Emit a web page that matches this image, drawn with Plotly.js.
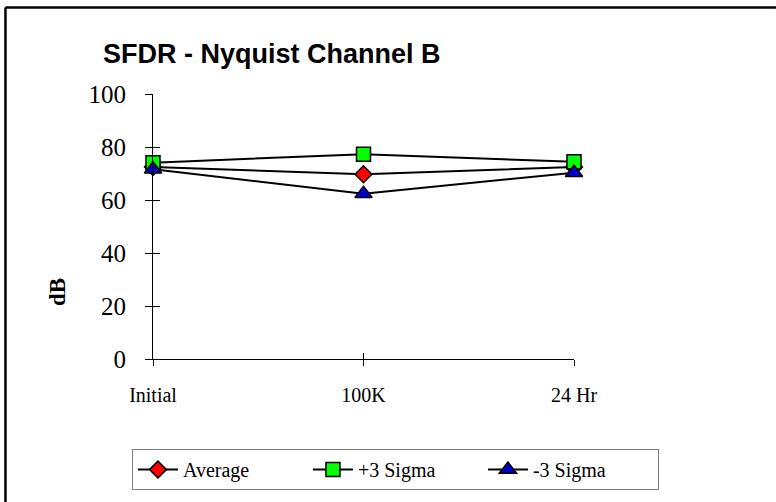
<!DOCTYPE html>
<html>
<head>
<meta charset="utf-8">
<script src="https://cdn.plot.ly/plotly-3.0.1.min.js"></script>
<style>
  html, body { margin: 0; padding: 0; background: #fff; overflow: hidden; }
  #chart { width: 776px; height: 502px; }
</style>
</head>
<body>
<div id="chart"></div>
<script>
var stages = ["Initial", "100K", "24 Hr"];
var average = [72.5, 69.7, 72.5];
var plus3Sigma = [74.1, 77.3, 74.4];
var minus3Sigma = [71.6, 62.4, 70.3];
var yTicks = [0, 20, 40, 60, 80, 100];

var serif = "Liberation Serif, Times New Roman, serif";

function series(name, values, symbol, color, size) {
  return {
    x: stages,
    y: values,
    name: name,
    type: "scatter",
    mode: "lines+markers",
    cliponaxis: false,
    line: {color: "#000", width: 2},
    marker: {symbol: symbol, color: color, size: size, line: {color: "#000", width: 1.5}}
  };
}

var traces = [
  series("Average", average, "diamond", "#ff0000", 13),
  series("+3 Sigma", plus3Sigma, "square", "#00ff00", 14),
  series("-3 Sigma", minus3Sigma, "triangle-up", "#0000cc", 15),
  // empty trace so the inner tick axes get drawn
  {x: [null], y: [null], xaxis: "x2", yaxis: "y2", type: "scatter", mode: "markers",
   showlegend: false, hoverinfo: "skip"}
];

var layout = {
  width: 776,
  height: 502,
  margin: {l: 153, r: 202, t: 94, b: 143},
  paper_bgcolor: "#fff",
  plot_bgcolor: "#fff",
  showlegend: true,
  title: {
    text: "<b>SFDR - Nyquist Channel B</b>",
    font: {family: "Liberation Sans, Arial, sans-serif", size: 27, color: "#000"},
    xref: "container", yref: "container",
    x: 0.1327, xanchor: "left",
    y: 0.894, yanchor: "middle"
  },
  xaxis: {
    type: "category",
    range: [0, 2],
    showline: true, linecolor: "#000", linewidth: 1,
    ticks: "outside", ticklen: 6, tickcolor: "#000",
    showgrid: false, zeroline: false,
    tickfont: {family: serif, size: 20, color: "#000"},
    ticklabelstandoff: 12
  },
  yaxis: {
    range: [0, 100],
    tickvals: yTicks,
    showline: true, linecolor: "#000", linewidth: 1,
    ticks: "outside", ticklen: 7, tickcolor: "#000",
    showgrid: false, zeroline: false,
    tickfont: {family: serif, size: 25, color: "#000"},
    ticklabelstandoff: 14
  },
  xaxis2: {
    overlaying: "x", anchor: "y2", range: [0, 2], tickvals: [0, 1, 2],
    ticks: "inside", ticklen: 6, tickcolor: "#000",
    showticklabels: false, showgrid: false, zeroline: false, showline: false
  },
  yaxis2: {
    overlaying: "y", anchor: "x2", range: [0, 100], tickvals: yTicks,
    ticks: "inside", ticklen: 7, tickcolor: "#000",
    showticklabels: false, showgrid: false, zeroline: false, showline: false
  },
  legend: {
    orientation: "h",
    x: -0.05, xanchor: "left",
    y: -0.34, yanchor: "top",
    bordercolor: "#808080", borderwidth: 1,
    font: {family: serif, size: 20, color: "#000"},
    entrywidth: 120,
    itemwidth: 40
  },
  annotations: [{
    text: "<b>dB</b>",
    xref: "paper", yref: "paper",
    x: -0.2257, y: 0.253, xanchor: "center", yanchor: "middle",
    showarrow: false, textangle: -90,
    font: {family: serif, size: 23, color: "#000"}
  }],
  shapes: [
    {type: "line", xref: "paper", yref: "paper",
     x0: -0.3504, x1: 1.4798, y0: 1.3264, y1: 1.3264,
     line: {color: "#000", width: 2.5}},
    {type: "line", xref: "paper", yref: "paper",
     x0: -0.3504, x1: -0.3504, y0: -0.5472, y1: 1.3264,
     line: {color: "#000", width: 2.5}}
  ]
};

Plotly.newPlot("chart", traces, layout, {displayModeBar: false, staticPlot: true});
</script>
</body>
</html>
